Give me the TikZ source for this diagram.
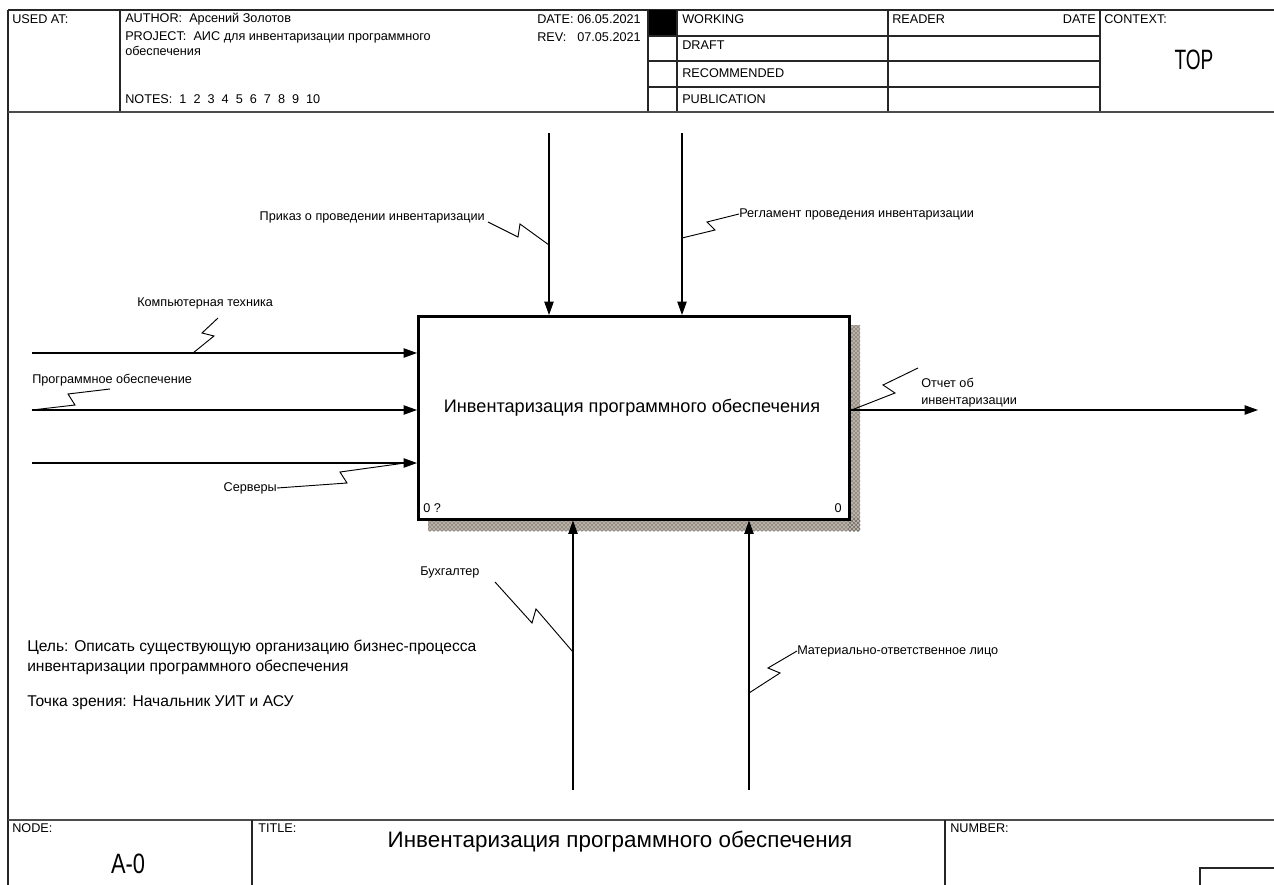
\documentclass[tikz,border=0pt]{standalone}
\usepackage{fontspec}
\usepackage{graphicx}
\setmainfont{Liberation Sans}
\usetikzlibrary{arrows.meta,patterns}

\begin{document}
\begin{tikzpicture}[x=0.75pt,y=-0.75pt,
  grid/.style={draw=black!85, line width=0.8pt},
  heavy/.style={draw=black!70, line width=1.6pt},
  small/.style={font=\fontsize{9.5}{12.75}\selectfont, inner sep=0pt},
  flow/.style={draw=black, line width=0.8pt, -{Triangle[length=10pt,width=7pt]}},
  squig/.style={draw=black, line width=0.7pt},
  procbox/.style={draw=black, line width=1.9pt, fill=white, inner sep=0pt,
    minimum width=323.25pt, minimum height=152.25pt, anchor=north west},
  bigtext/.style={font=\fontsize{13.6}{16}\selectfont, inner sep=0pt},
  notetext/.style={font=\fontsize{11.7}{14}\selectfont, inner sep=0pt, anchor=west}]

\useasboundingbox (0,0) rectangle (1274,885);

% ---------- frame and header grid ----------
\draw[grid] (8,10) -- (1274,10);
\draw[grid] (8,10) -- (8,885);
\draw[grid] (120,10) -- (120,112);
\fill[black] (648,10) rectangle (676,36);
\draw[grid] (648,10) -- (648,112);
\draw[grid] (677,10) -- (677,112);
\draw[grid] (888,10) -- (888,112);
\draw[grid] (1100,10) -- (1100,112);
\foreach \yy in {36,61,87} \draw[grid] (648,\yy) -- (1100,\yy);
\draw[heavy] (8,112) -- (1274,112);

% header texts
\node[small, anchor=west] (usedat) at (12,19) {USED AT:};
\node[small, anchor=west] (author) at (125,19) {AUTHOR:\ \ Арсений Золотов};
\node[small, anchor=west] (project) at (125,37) {PROJECT:\ \ АИС для инвентаризации программного};
\node[small, anchor=west] (project2) at (125,51) {обеспечения};
\node[small, anchor=west] (notes) at (125,99) {NOTES:\ \ 1\ \ 2\ \ 3\ \ 4\ \ 5\ \ 6\ \ 7\ \ 8\ \ 9\ \ 10};
\node[small, anchor=west] (datek) at (537,19) {DATE:};
\node[small, anchor=east] (datev) at (641,19) {06.05.2021};
\node[small, anchor=west] (revk) at (537,37) {REV:};
\node[small, anchor=east] (revv) at (641,37) {07.05.2021};
\node[small, anchor=west] (working) at (682,19) {WORKING};
\node[small, anchor=west] (draft) at (682,45) {DRAFT};
\node[small, anchor=west] (recom) at (682,73) {RECOMMENDED};
\node[small, anchor=west] (publ) at (682,99) {PUBLICATION};
\node[small, anchor=west] (reader) at (892,19) {READER};
\node[small, anchor=east] (rdate) at (1096,19) {DATE};
\node[small, anchor=west] (context) at (1104,19) {CONTEXT:};
\node[inner sep=0pt, font=\fontsize{21}{23}\selectfont] (top) at (1194,60) {\scalebox{0.68}[1]{TOP}};

% ---------- footer ----------
\draw[heavy] (8,820) -- (1274,820);
\draw[grid] (252,820) -- (252,885);
\draw[grid] (945,820) -- (945,885);
\draw[grid] (1200,885) -- (1200,868) -- (1274,868);
\node[small, anchor=west] (nodek) at (12,828) {NODE:};
\node[small, anchor=west] (titlek) at (258,828) {TITLE:};
\node[small, anchor=west] (numberk) at (950,828) {NUMBER:};
\node[inner sep=0pt, font=\fontsize{21}{23}\selectfont] (nodev) at (128,864) {\scalebox{0.78}[1]{A-0}};
\node[inner sep=0pt, font=\fontsize{16.8}{19}\selectfont] (titlev) at (620,842) {Инвентаризация программного обеспечения};

% ---------- activity box with shadow ----------
\fill[fill={rgb,255:red,185;green,176;blue,166}] (848,325) rectangle (860,531);
\fill[fill={rgb,255:red,185;green,176;blue,166}] (428,518) rectangle (860,531);
\fill[pattern=crosshatch dots, pattern color=black!85] (848,325) rectangle (860,531);
\fill[pattern=crosshatch dots, pattern color=black!85] (428,518) rectangle (860,531);
\node[procbox] (proc) at (417,315) {};
\node[bigtext] (proctext) at (632,408) {Инвентаризация программного обеспечения};
\node[small, anchor=west] (procnum) at (423,508) {0 ?};
\node[small, anchor=east] (procid) at (842,508) {0};

% ---------- controls ----------
\coordinate (c1) at (549,133);
\coordinate (c2) at (682,133);
\draw[flow] (c1) -- (c1 |- proc.north);
\draw[flow] (c2) -- (c2 |- proc.north);
\node[small, anchor=east] (lc1) at (485,217) {Приказ о проведении инвентаризации};
\node[small, anchor=west] (lc2) at (739,214) {Регламент проведения инвентаризации};
\draw[squig] (lc1.east) ++(3,5) -- (518,237) -- (520,224) -- (549,245);
\draw[squig] (682,238) -- (715,230) -- (707,222) -- (lc2.west);

% ---------- inputs ----------
\coordinate (i1) at (32,353);
\coordinate (i2) at (32,410);
\coordinate (i3) at (32,463);
\draw[flow] (i1) -- (i1 -| proc.west);
\draw[flow] (i2) -- (i2 -| proc.west);
\draw[flow] (i3) -- (i3 -| proc.west);
\node[small, anchor=west] (li1) at (137,303) {Компьютерная техника};
\node[small, anchor=west] (li2) at (32,380) {Программное обеспечение};
\node[small, anchor=east] (li3) at (277,488) {Серверы};
\draw[squig] (193,353) -- (214,336) -- (202,333) -- (218,318);
\draw[squig] (i2) -- (75,405) -- (68,394) -- (110,389);
\draw[squig] (405,463) -- (340,472) -- (347,483) -- (li3.east);

% ---------- output ----------
\coordinate (o1) at (1258,410);
\draw[flow] (o1 -| proc.east) -- (o1);
\node[small, anchor=west, align=left] (lo1) at (921,393) {Отчет об\\инвентаризации};
\draw[squig] (849,411) -- (895,393) -- (883,385) -- (918,368);

% ---------- mechanisms ----------
\coordinate (m1) at (573,790);
\coordinate (m2) at (749,790);
\draw[flow] (m1) -- (m1 |- proc.south);
\draw[flow] (m2) -- (m2 |- proc.south);
\node[small, anchor=west] (lm1) at (420,572) {Бухгалтер};
\node[small, anchor=west] (lm2) at (797,651) {Материально-ответственное лицо};
\draw[squig] (495,582) -- (532,623) -- (536,609) -- (573,652);
\draw[squig] (749,693) -- (780,673) -- (768,668) -- (lm2.west);

% ---------- purpose and viewpoint ----------
\node[notetext] (purpose1) at (27,647) {Цель: Описать существующую организацию бизнес-процесса};
\node[notetext] (purpose2) at (27,667) {инвентаризации программного обеспечения};
\node[notetext] (viewpoint) at (27,703) {Точка зрения: Начальник УИТ и АСУ};

\end{tikzpicture}
\end{document}
